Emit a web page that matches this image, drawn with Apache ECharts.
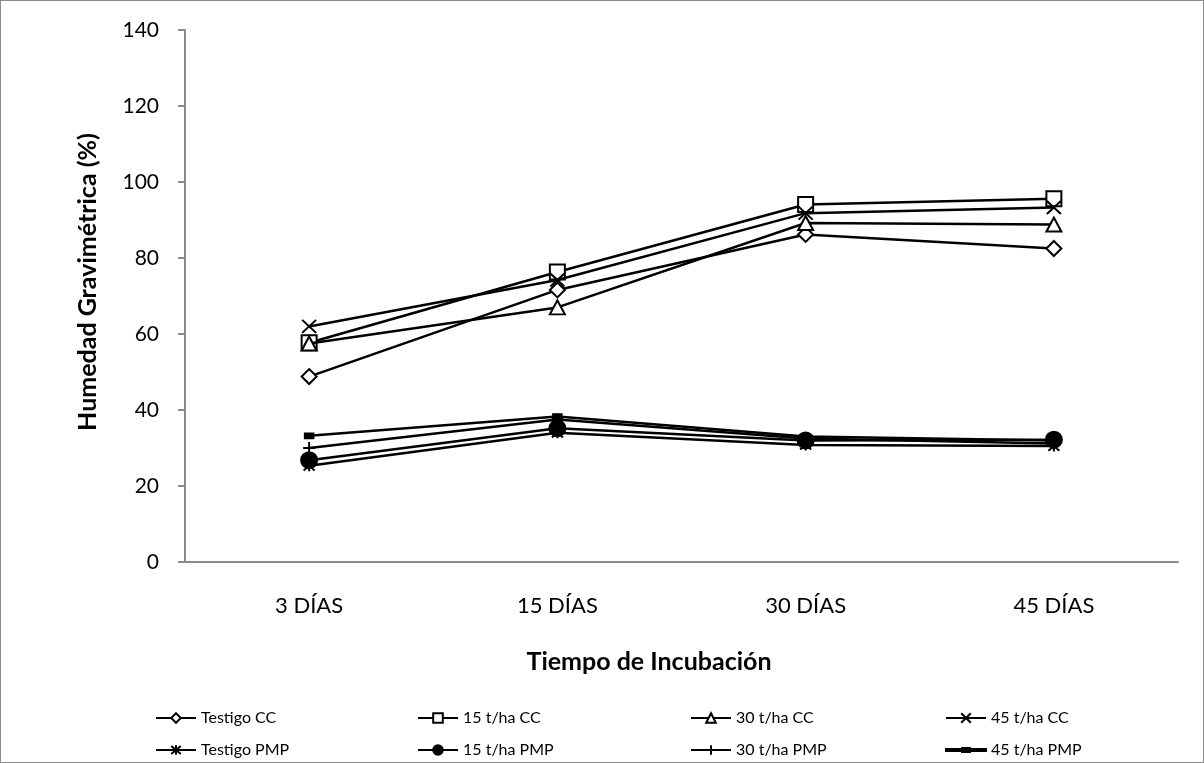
<!DOCTYPE html>
<html>
<head>
<meta charset="utf-8">
<script src="https://cdn.jsdelivr.net/npm/echarts@6/dist/echarts.min.js"></script>
<style>
html,body{margin:0;padding:0;background:#fff;}
#wrap{width:1204px;height:763px;box-sizing:border-box;border:1px solid #8c8c8c;position:relative;}
#chart{position:absolute;left:-1px;top:-1px;width:1204px;height:763px;}
</style>
</head>
<body>
<div id="wrap"><div id="chart"></div></div>
<script>
const categories = ['3 DÍAS', '15 DÍAS', '30 DÍAS', '45 DÍAS'];
const yTicks = [0, 20, 40, 60, 80, 100, 120, 140];
const xTitle = 'Tiempo de Incubación';
const yTitle = 'Humedad Gravimétrica (%)';
const seriesNames = ['Testigo CC', '15 t/ha CC', '30 t/ha CC', '45 t/ha CC',
                     'Testigo PMP', '15 t/ha PMP', '30 t/ha PMP', '45 t/ha PMP'];
const testigoCC = [48.8, 71.6, 86.2, 82.5];
const t15CC = [57.7, 76.3, 94.1, 95.6];
const t30CC = [57.5, 67.0, 89.2, 88.8];
const t45CC = [62.0, 74.2, 91.8, 93.3];
const testigoPMP = [25.3, 34.0, 30.8, 30.5];
const t15PMP = [26.8, 35.2, 32.0, 32.2];
const t30PMP = [30.0, 37.5, 32.5, 31.2];
const t45PMP = [33.2, 38.3, 33.0, 32.0];
const seriesValues = [testigoCC, t15CC, t30CC, t45CC, testigoPMP, t15PMP, t30PMP, t45PMP];

const FONT = 'Lato, "Open Sans", sans-serif';
const symbols = [
  {symbol: 'diamond', size: [15, 15], fill: '#fff'},
  {symbol: 'rect', size: [15, 15], fill: '#fff'},
  {symbol: 'triangle', size: [15, 14], fill: '#fff'},
  {symbol: 'path://M0,0L10,10M10,0L0,10', size: [14, 13], fill: '#000'},
  {symbol: 'path://M0,0L10,10M10,0L0,10M5,-1L5,11', size: [11, 11], fill: '#000'},
  {symbol: 'circle', size: [16, 16], fill: '#000'},
  {symbol: 'path://M5,0L5,10M0,5L10,5', size: [12, 12], fill: '#000'},
  {symbol: 'rect', size: [8, 5], fill: '#000'}
];

const series = seriesNames.map((name, i) => ({
  name: name,
  type: 'line',
  data: seriesValues[i],
  symbol: symbols[i].symbol,
  symbolSize: symbols[i].size,
  showAllSymbol: true,
  lineStyle: {color: '#000', width: 2.5},
  itemStyle: {color: symbols[i].fill, borderColor: '#000', borderWidth: 2},
  emphasis: {disabled: true},
  animation: false,
  z: 2 + i
}));

const legendCols = [155, 417, 690, 945];
const legendRows = [710, 742];
const legends = seriesNames.map((name, i) => ({
  data: [i === 7 ? {name: name, icon: 'path://M0,5L40,5L40,7L0,7ZM16,4L24,4L24,8L16,8Z'} : name],
  left: legendCols[i % 4],
  top: legendRows[Math.floor(i / 4)],
  itemWidth: 40,
  itemHeight: 12,
  itemGap: 0,
  padding: 0,
  selectedMode: false,
  textStyle: {fontFamily: FONT, fontSize: 16, color: '#000'}
}));

const chart = echarts.init(document.getElementById('chart'));
chart.setOption({
  backgroundColor: 'transparent',
  animation: false,
  textStyle: {fontFamily: FONT},
  grid: {left: 185, right: 26, top: 30, bottom: 201, containLabel: false},
  legend: legends,
  graphic: [
    {type: 'text', x: 649, y: 662, style: {text: xTitle, font: 'bold 25px ' + FONT, fill: '#000', align: 'center', verticalAlign: 'middle'}},
    {type: 'text', x: 88, y: 282, rotation: Math.PI / 2, style: {text: yTitle, font: 'bold 25px ' + FONT, fill: '#000', align: 'center', verticalAlign: 'middle'}}
  ],
  xAxis: {
    type: 'category',
    data: categories,
    boundaryGap: true,
    axisLine: {lineStyle: {color: '#8a8a8a', width: 2}},
    axisTick: {show: false},
    axisLabel: {fontFamily: FONT, fontSize: 22, color: '#000', margin: 33}
  },
  yAxis: {
    type: 'value',
    min: yTicks[0],
    max: yTicks[yTicks.length - 1],
    interval: yTicks[1] - yTicks[0],
    splitLine: {show: false},
    axisLine: {show: true, lineStyle: {color: '#8a8a8a', width: 2}},
    axisTick: {show: true, length: 7, lineStyle: {color: '#8a8a8a', width: 2}},
    axisLabel: {fontFamily: FONT, fontSize: 21, color: '#000', margin: 26}
  },
  series: series
});
</script>
</body>
</html>
